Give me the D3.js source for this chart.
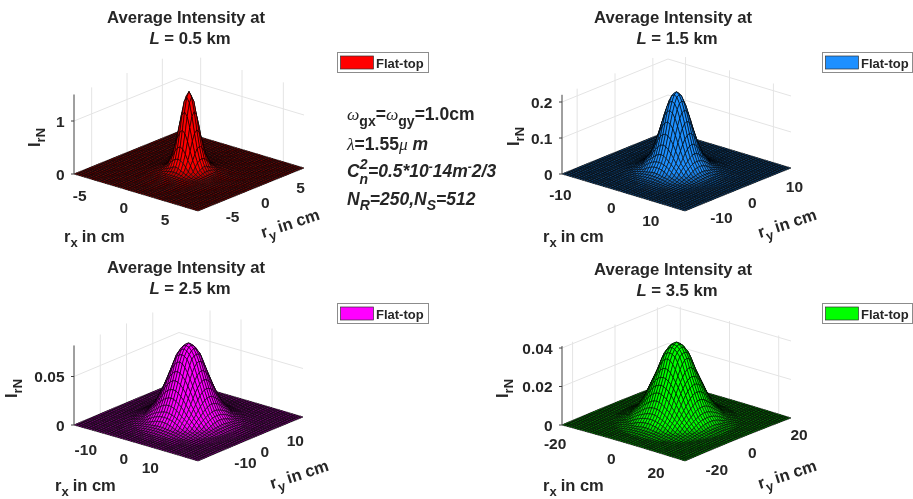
<!DOCTYPE html>
<html><head><meta charset="utf-8">
<script src="https://cdn.jsdelivr.net/npm/d3@7"></script>
<style>
html,body{margin:0;padding:0;background:#fff}
svg{display:block;filter:blur(.4px)}
text{font-family:"Liberation Sans",Arial,sans-serif;fill:#262626}
</style></head><body><div id="c"></div>
<script>
// ---- values ----
const distances = ["0.5","1.5","2.5","3.5"];
const colors = ["#ff0000","#1e90ff","#ff00ff","#00ff00"];
const legendLabel = "Flat-top";
const halfRange = [7.5,14,20,25];
const horizTicks = [[-5,0,5],[-10,0,10],[-10,0,10],[-20,0,20]];
const zTicks = [[0,1],[0,0.1,0.2],[0,0.05],[0,0.02,0.04]];
const zTop = [1.5,0.22,0.082,0.041];
// radial intensity profiles (radius in cm, normalised intensity)
const radii1 = [0,.25,.5,.75,1,1.25,1.5,2,2.5,3,4,5,6,10.7];
const vals1  = [1.5,1.45,1.27,1.02,.75,.52,.33,.12,.05,.03,.012,.004,.001,0];
const radii2 = [0,.75,1.5,2.25,3,3.75,4.5,6,7.5,9,11,20];
const vals2  = [.22,.212,.187,.15,.11,.075,.047,.016,.006,.002,.0005,0];
const radii3 = [0,1.5,3,4.5,5.7,7,8.5,11,14,17,29];
const vals3  = [.0805,.077,.068,.052,.040,.028,.017,.0055,.0015,.0004,0];
const radii4 = [0,2,4,6,8,10,12,15,19,36];
const vals4  = [.0413,.0395,.035,.0265,.0195,.0125,.0075,.0025,.0006,0];
const allRadii = [radii1,radii2,radii3,radii4];
const allVals = [vals1,vals2,vals3,vals4];
const meshCells = 48;

// ---- layout ----
const W=913,H=499;
const frames=[
 {L:[74,174],F:[198,211],R:[304,168],zPx:53,  tx:186,ty:23,lx:337,ly:52,iy:[40,147],xl:[64,242],yl:[263,238]},
 {L:[562,174],F:[685,211],R:[791,168],zPx:360,tx:673,ty:23,lx:822,ly:52,iy:[519,146],xl:[543,242],yl:[760,238]},
 {L:[74,425],F:[198,461],R:[303,417],zPx:970, tx:186,ty:273,lx:337,ly:303,iy:[17,398],xl:[55,491],yl:[272,489]},
 {L:[562,425],F:[685,461],R:[791,418],zPx:1925,tx:673,ty:274.5,lx:822,ly:303,iy:[508,398],xl:[543,491],yl:[760,489]}
];
const svg=d3.select("#c").append("svg").attr("width",W).attr("height",H);
const grey="#e4e4e4", axisC="#404040";

frames.forEach((f,p)=>{
  const g=svg.append("g");
  const m=halfRange[p];
  const sx=d3.scaleLinear([-m,m],[0,1]), sy=d3.scaleLinear([-m,m],[0,1]);
  const sz=d3.scaleLinear([0,1],[0,f.zPx]);
  const proj=(x,y,z)=>{
    const a=sx(x), b=sy(y);
    return [f.L[0]+a*(f.F[0]-f.L[0])+b*(f.R[0]-f.F[0]),
            f.L[1]+a*(f.F[1]-f.L[1])+b*(f.R[1]-f.F[1])-sz(z)];
  };
  const line=d3.line();
  // back walls
  const walls=g.append("g").attr("fill","none").attr("stroke",grey).attr("stroke-width",1);
  horizTicks[p].forEach(t=>{
    walls.append("path").attr("d",line([proj(-m,t,0),proj(-m,t,zTop[p])]));
    walls.append("path").attr("d",line([proj(t,m,0),proj(t,m,zTop[p])]));
  });
  zTicks[p].forEach(t=>{
    walls.append("path").attr("d",line([proj(-m,-m,t),proj(-m,m,t),proj(m,m,t)]));
  });
  // surface
  const prof=d3.scaleLinear(allRadii[p],allVals[p]).clamp(true);
  const gs=d3.scaleLinear([0,meshCells],[-m,m]);
  const zAt=(i,j)=>prof(Math.hypot(gs(i),gs(j)));
  const peak=d3.max(allVals[p]);
  const base=d3.interpolateRgb("#000",colors[p])(.55);
  const shade=d3.scaleLinear([0,.12*peak],[base,colors[p]]).clamp(true);
  const quads=[];
  for(let i=0;i<meshCells;i++) for(let j=meshCells-1;j>=0;j--) quads.push([i,j]);
  g.append("g").selectAll("path").data(quads).join("path")
    .attr("d",([i,j])=>line([[i,j],[i+1,j],[i+1,j+1],[i,j+1]].map(([a,b])=>proj(gs(a),gs(b),zAt(a,b))))+"Z")
    .attr("fill",([i,j])=>shade(zAt(i+.5,j+.5)))
    .attr("stroke","#000").attr("stroke-width",.6).attr("stroke-linejoin","round");
  // z axis
  g.append("path").attr("d",line([proj(-m,-m,0),proj(-m,-m,zTop[p])])).attr("stroke",axisC).attr("fill","none");
  const zt=g.append("g");
  zTicks[p].forEach(t=>{
    const q=proj(-m,-m,t);
    zt.append("path").attr("d",line([[q[0]-3,q[1]],q])).attr("stroke",axisC);
    zt.append("text").attr("x",q[0]-9.5).attr("y",q[1]+5.5).attr("text-anchor","end")
      .attr("font-size",15.5).attr("font-weight","bold").text(t);
  });
  // horizontal tick labels
  horizTicks[p].forEach(t=>{
    const a=proj(t,-m,0), b=proj(m,t,0);
    g.append("text").attr("x",a[0]-8).attr("y",a[1]+20.5).attr("text-anchor","end")
     .attr("font-size",15.5).attr("font-weight","bold").text(t);
    g.append("text").attr("x",b[0]+10).attr("y",b[1]+18).attr("text-anchor","start")
     .attr("font-size",15.5).attr("font-weight","bold").text(t);
  });
  // title
  g.append("text").attr("x",f.tx).attr("y",f.ty).attr("text-anchor","middle")
    .attr("font-size",16.7).attr("font-weight","bold").text("Average Intensity at");
  const t2=g.append("text").attr("x",f.tx+4).attr("y",f.ty+21).attr("text-anchor","middle")
    .attr("font-size",16.7).attr("font-weight","bold");
  t2.append("tspan").attr("font-style","italic").text("L");
  t2.append("tspan").text(` = ${distances[p]} km`);
  // legend
  const wd=p%2?90:91, ht=20;
  g.append("rect").attr("x",f.lx+.5).attr("y",f.ly+.5).attr("width",wd).attr("height",ht)
    .attr("fill","#fff").attr("stroke","#8c8c8c");
  g.append("rect").attr("x",f.lx+3.5).attr("y",f.ly+4).attr("width",33).attr("height",13)
    .attr("fill",colors[p]).attr("stroke","#333").attr("stroke-width",.7);
  g.append("text").attr("x",f.lx+39).attr("y",f.ly+15.5).attr("font-size",13)
    .attr("font-weight","bold").text(legendLabel);
  // axis names
  const rich=(x,y,rot,a,sub,b)=>{
    const tx=g.append("text").attr("transform",`translate(${x},${y}) rotate(${rot})`)
       .attr("font-size",16.5).attr("font-weight","bold");
    tx.append("tspan").text(a);
    tx.append("tspan").attr("dy",5).attr("font-size",13).text(sub);
    if(b) tx.append("tspan").attr("dy",-5).attr("dx",4).text(b);
  };
  rich(f.xl[0],f.xl[1],0,"r","x","in cm");
  rich(f.yl[0],f.yl[1],-18,"r","y","in cm");
  rich(f.iy[0],f.iy[1],-90,"I","rN","");
});

// annotation block
const ann=svg.append("g").attr("font-size",17.5).attr("font-weight","bold");
const sym='"Liberation Serif",serif';
function seg(y,parts){
  const t=ann.append("text").attr("x",347).attr("y",y);
  parts.forEach(([s,o])=>{
    const ts=t.append("tspan").text(s);
    if(o&&o.i) ts.attr("font-style","italic");
    if(o&&o.s) ts.attr("font-family",sym).attr("font-weight","normal").attr("font-style","italic");
    if(o&&o.dy) ts.attr("dy",o.dy);
    if(o&&o.dx) ts.attr("dx",o.dx);
    if(o&&o.fs) ts.attr("font-size",o.fs);
  });
}
seg(120,[["ω",{s:1}],["gx",{dy:6,fs:14}],["=",{dy:-6}],["ω",{s:1}],["gy",{dy:6,fs:14}],["=1.0cm",{dy:-6}]]);
seg(150,[["λ",{s:1}],["=1.55"],["μ",{s:1}],[" m",{i:1}]]);
seg(177,[["C",{i:1}],["2",{i:1,dy:-8,fs:14}],["n",{i:1,dy:15,dx:-8,fs:14}],["=0.5*10",{i:1,dy:-7}],["-",{i:1,dy:-6,fs:12}],["14m",{i:1,dy:6}],["-",{i:1,dy:-6,fs:12}],["2/3",{i:1,dy:6}]]);
seg(205,[["N",{i:1}],["R",{i:1,dy:5,fs:14}],["=250,N",{i:1,dy:-5}],["S",{i:1,dy:5,fs:14}],["=512",{i:1,dy:-5}]]);
</script></body></html>
